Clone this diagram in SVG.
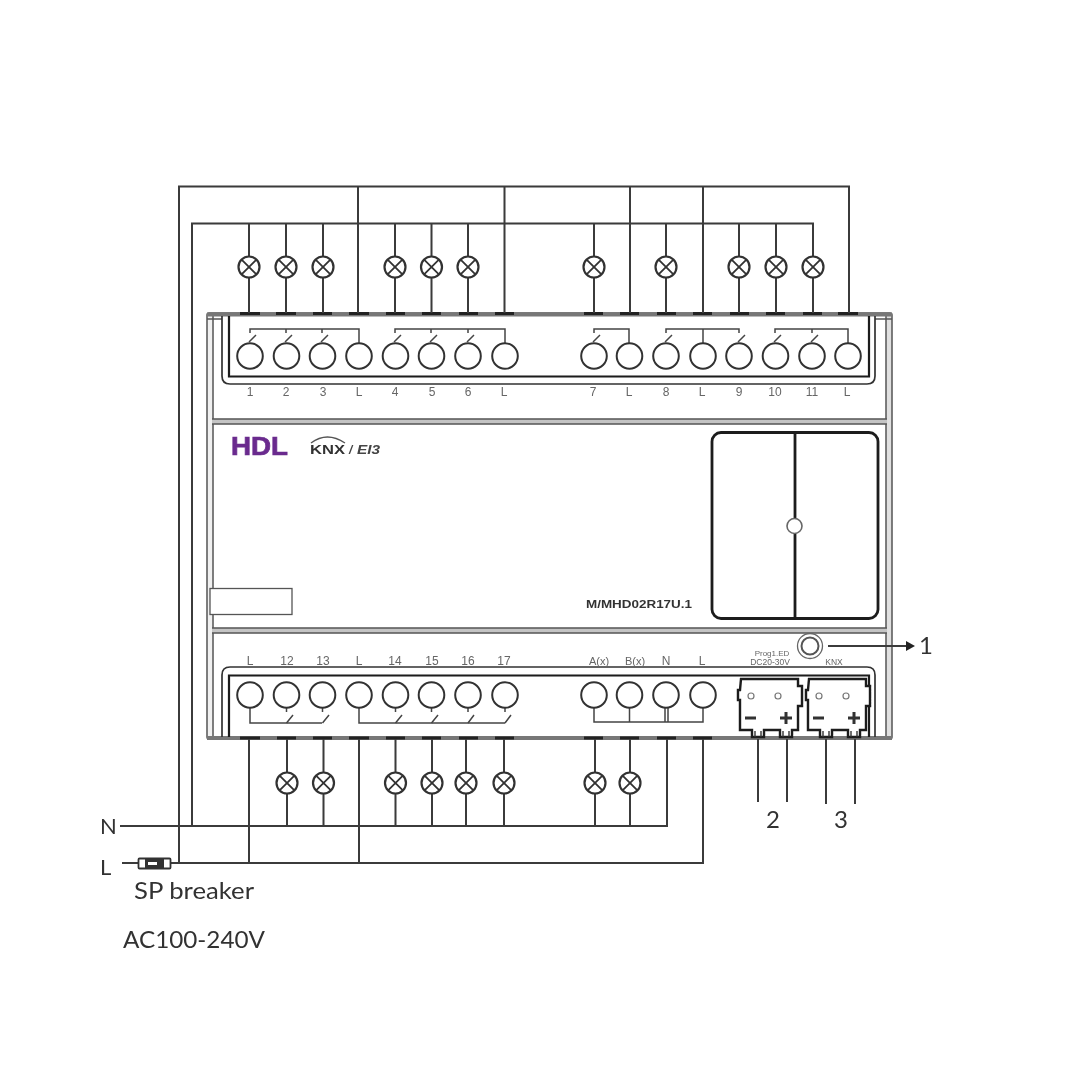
<svg xmlns="http://www.w3.org/2000/svg" xmlns:xlink="http://www.w3.org/1999/xlink" width="1080" height="1080" viewBox="0 0 1080 1080">
<style>
.w{fill:none;stroke:#3a3a3a;stroke-width:2}
.b{fill:none;stroke:#444;stroke-width:1.5}
.body{fill:none;stroke:#555;stroke-width:1.5}
.ch{fill:none;stroke:#1c1c1c;stroke-width:2.2}
.ch2{fill:none;stroke:#333;stroke-width:1.7}
.t{fill:#fff;stroke:#333;stroke-width:2}
.pad{stroke:#222;stroke-width:3}
.lab{font-family:"Liberation Sans",Arial,sans-serif;font-size:12px;fill:#666;text-anchor:middle}
.big{font-family:Lato,"Liberation Sans",sans-serif;fill:#333}
</style>
<defs>
<filter id="soft" filterUnits="userSpaceOnUse" x="0" y="0" width="1080" height="1080"><feGaussianBlur stdDeviation="0.7"/></filter>
<g id="lamp"><circle r="10.5" fill="#fff" stroke="#333" stroke-width="2.2"/><path d="M-7.4-7.4L7.4 7.4M-7.4 7.4L7.4-7.4" stroke="#333" stroke-width="1.8"/></g>
<circle id="term" r="12.8" class="t"/>
<g id="plug">
<path d="M3 0H60V7H64V27H60V51H54V58H42V51H26V58H14V51H2V21H0V11H2Z" fill="#fff" stroke="#1c1c1c" stroke-width="2.4"/>
<path d="M17 52V58M23 52V58M45 52V58M51 52V58" stroke="#333" stroke-width="1.4"/>
<circle cx="13" cy="17" r="3" fill="#fff" stroke="#777" stroke-width="1.2"/>
<circle cx="40" cy="17" r="3" fill="#fff" stroke="#777" stroke-width="1.2"/>
<path d="M7 39H18M42 39H54M48 33V45" stroke="#333" stroke-width="3" fill="none"/>
</g>
</defs>
<g filter="url(#soft)">
<g id="device">
<rect x="207" y="313" width="6" height="426" fill="#f0f0f0"/>
<rect x="886" y="313" width="6" height="426" fill="#e0e0e0"/>
<rect x="207" y="313" width="685" height="426" rx="2" class="body"/>
<path class="body" d="M213 316V739M886 316V739M207 319H222M875 319H892"/>
<rect x="207" y="312.500" width="685" height="4" fill="#777"/>
<rect x="207" y="736" width="685" height="4" fill="#777"/>
<rect x="212" y="419" width="675" height="5" fill="#c4c4c4"/>
<rect x="212" y="628" width="675" height="5" fill="#c4c4c4"/>
<path class="body" d="M212 419H887M212 424H887M212 628H887M212 633H887"/>
<path class="ch2" d="M222 316V376Q222 384 230 384H867Q875 384 875 376V316"/>
<path class="ch" d="M229 316V376.500H869V316"/>
<path class="ch2" d="M222 737V675Q222 667 230 667H867Q875 667 875 675V737"/>
<path class="ch" d="M229 737V675.500H869V737"/>
<rect x="210" y="588.500" width="82" height="26" fill="#fff" stroke="#555" stroke-width="1.3"/>
</g>
<g id="panel">
<rect x="712" y="432.500" width="166" height="186" rx="9" fill="#fff" stroke="#1c1c1c" stroke-width="2.8"/>
<path d="M795 432V618" stroke="#1c1c1c" stroke-width="2.8"/>
<circle cx="794.500" cy="526" r="7.500" fill="#fff" stroke="#666" stroke-width="1.600"/>
</g>
<g id="logos">
<text x="231" y="455" font-family="Liberation Sans,Arial,sans-serif" font-weight="700" font-size="25" fill="#6a2c8e" stroke="#6a2c8e" stroke-width="0.7" textLength="57" lengthAdjust="spacingAndGlyphs">HDL</text>
<text x="310" y="454" font-family="Liberation Sans,Arial,sans-serif" font-weight="700" font-size="12.500" fill="#333" textLength="35" lengthAdjust="spacingAndGlyphs">KNX</text>
<path d="M311 443Q327 431 345 443" fill="none" stroke="#555" stroke-width="1.400"/>
<text x="349" y="454" font-family="Liberation Sans,Arial,sans-serif" font-style="italic" font-weight="700" font-size="12" fill="#444">/</text>
<text x="357" y="454" font-family="Liberation Sans,Arial,sans-serif" font-style="italic" font-weight="700" font-size="12" fill="#444" textLength="23" lengthAdjust="spacingAndGlyphs">EI3</text>
<text x="586" y="608" font-family="Liberation Sans,Arial,sans-serif" font-weight="700" font-size="11.500" fill="#333" textLength="106" lengthAdjust="spacingAndGlyphs">M/MHD02R17U.1</text>
</g>
<g id="terminals-top">
<path class="pad" d="M240 313.500H260M276 313.500H296M313 313.500H332M349 313.500H369M386 313.500H405M422 313.500H441M459 313.500H478M495 313.500H514M584 313.500H603M620 313.500H639M657 313.500H676M693 313.500H712M730 313.500H749M766 313.500H785M803 313.500H822M838 313.500H858"/>
<path class="b" d="M250 333V329H359V343M286 329V333M322 329V333M395 333V329H505V343M431 329V333M468 329V333M594 333V329H629V343M666 333V329H739V333M703 329V343M775 333V329H848V343M812 329V333"/>
<path class="b" d="M249 342L256 335M285 342L292 335M321 342L328 335M394 342L401 335M430 342L437 335M467 342L474 335M593 342L600 335M665 342L672 335M738 342L745 335M774 342L781 335M811 342L818 335"/>
<use xlink:href="#term" href="#term" x="250" y="356"/><use xlink:href="#term" href="#term" x="286.500" y="356"/><use xlink:href="#term" href="#term" x="322.500" y="356"/><use xlink:href="#term" href="#term" x="359" y="356"/><use xlink:href="#term" href="#term" x="395.500" y="356"/><use xlink:href="#term" href="#term" x="431.500" y="356"/><use xlink:href="#term" href="#term" x="468" y="356"/><use xlink:href="#term" href="#term" x="505" y="356"/><use xlink:href="#term" href="#term" x="594" y="356"/><use xlink:href="#term" href="#term" x="629.500" y="356"/><use xlink:href="#term" href="#term" x="666" y="356"/><use xlink:href="#term" href="#term" x="703" y="356"/><use xlink:href="#term" href="#term" x="739" y="356"/><use xlink:href="#term" href="#term" x="775.500" y="356"/><use xlink:href="#term" href="#term" x="812" y="356"/><use xlink:href="#term" href="#term" x="848" y="356"/>
<g class="lab">
<text x="250" y="396">1</text><text x="286" y="396">2</text><text x="323" y="396">3</text><text x="359" y="396">L</text><text x="395" y="396">4</text><text x="432" y="396">5</text><text x="468" y="396">6</text><text x="504" y="396">L</text><text x="593" y="396">7</text><text x="629" y="396">L</text><text x="666" y="396">8</text><text x="702" y="396">L</text><text x="739" y="396">9</text><text x="775" y="396">10</text><text x="812" y="396">11</text><text x="847" y="396">L</text>
</g>
</g>
<g id="terminals-bottom">
<path class="pad" d="M240 738H260M277 738H296M313 738H332M349 738H369M386 738H405M422 738H441M459 738H478M495 738H514M584 738H603M620 738H639M657 738H676M693 738H712"/>
<path class="b" d="M250 708V723H322M359 708V723H505M594 708V722H703V708M629.500 708V722M665 708V722M668 708V722"/>
<path class="b" d="M286.500 723L293 715M322.500 723L329 715M395.500 723L402 715M431.500 723L438 715M468 723L474 715M505 723L511 715"/>
<path class="b" d="M286.500 708V712M322.500 708V712M395.500 708V712M431.500 708V712M468 708V712M505 708V712"/>
<use xlink:href="#term" href="#term" x="250" y="695"/><use xlink:href="#term" href="#term" x="286.500" y="695"/><use xlink:href="#term" href="#term" x="322.500" y="695"/><use xlink:href="#term" href="#term" x="359" y="695"/><use xlink:href="#term" href="#term" x="395.500" y="695"/><use xlink:href="#term" href="#term" x="431.500" y="695"/><use xlink:href="#term" href="#term" x="468" y="695"/><use xlink:href="#term" href="#term" x="505" y="695"/><use xlink:href="#term" href="#term" x="594" y="695"/><use xlink:href="#term" href="#term" x="629.500" y="695"/><use xlink:href="#term" href="#term" x="666" y="695"/><use xlink:href="#term" href="#term" x="703" y="695"/>
<g class="lab">
<text x="250" y="665">L</text><text x="287" y="665">12</text><text x="323" y="665">13</text><text x="359" y="665">L</text><text x="395" y="665">14</text><text x="432" y="665">15</text><text x="468" y="665">16</text><text x="504" y="665">17</text><text x="599" y="665" font-size="11">A(x)</text><text x="635" y="665" font-size="11">B(x)</text><text x="666" y="665">N</text><text x="702" y="665">L</text>
<text x="772" y="656" style="font-size:8px">Prog1.ED</text><text x="770" y="665" style="font-size:8.500px">DC20-30V</text><text x="834" y="665" style="font-size:8.500px">KNX</text>
</g>
</g>
<g id="connector-2"><use xlink:href="#plug" href="#plug" x="738" y="679"/></g>
<g id="connector-3"><use xlink:href="#plug" href="#plug" x="806" y="679"/></g>
<g id="prog-led">
<circle cx="810" cy="646" r="12.500" fill="#fff" stroke="#666" stroke-width="1.300"/>
<circle cx="810" cy="646" r="8.500" fill="#fff" stroke="#555" stroke-width="2"/>
</g>
<g id="connectors">
<path class="w" d="M179 863V186.500H849V313M358 186.500V313M504.500 186.500V313M630 186.500V313M703 186.500V313"/>
<path class="w" d="M192 826V223.500H813V257M249 223.500V257M286 223.500V257M323 223.500V257M395 223.500V257M431.500 223.500V257M468 223.500V257M594 223.500V257M666 223.500V257M739 223.500V257M776 223.500V257"/>
<path class="w" d="M249 277V313M286 277V313M323 277V313M395 277V313M431.500 277V313M468 277V313M594 277V313M666 277V313M739 277V313M776 277V313M813 277V313"/>
<path class="w" d="M120 826H667V739M249 739V863M359 739V863M170 863H703V739M122 863H138"/>
<path class="w" d="M287 739V773M323.500 739V773M395.500 739V773M432 739V773M466 739V773M504 739V773M595 739V773M630 739V773"/>
<path class="w" d="M287 794V826M323.500 794V826M395.500 794V826M432 794V826M466 794V826M504 794V826M595 794V826M630 794V826"/>
<path class="w" d="M758 739V802M787 739V802M826 739V804M855 739V804"/>
<path class="w" d="M828 646H908"/>
<path d="M906 641L915 646L906 651Z" fill="#222"/>
</g>
<g id="lamps">
<use xlink:href="#lamp" href="#lamp" x="249" y="267"/><use xlink:href="#lamp" href="#lamp" x="286" y="267"/><use xlink:href="#lamp" href="#lamp" x="323" y="267"/><use xlink:href="#lamp" href="#lamp" x="395" y="267"/><use xlink:href="#lamp" href="#lamp" x="431.500" y="267"/><use xlink:href="#lamp" href="#lamp" x="468" y="267"/><use xlink:href="#lamp" href="#lamp" x="594" y="267"/><use xlink:href="#lamp" href="#lamp" x="666" y="267"/><use xlink:href="#lamp" href="#lamp" x="739" y="267"/><use xlink:href="#lamp" href="#lamp" x="776" y="267"/><use xlink:href="#lamp" href="#lamp" x="813" y="267"/>
<use xlink:href="#lamp" href="#lamp" x="287" y="783"/><use xlink:href="#lamp" href="#lamp" x="323.500" y="783"/><use xlink:href="#lamp" href="#lamp" x="395.500" y="783"/><use xlink:href="#lamp" href="#lamp" x="432" y="783"/><use xlink:href="#lamp" href="#lamp" x="466" y="783"/><use xlink:href="#lamp" href="#lamp" x="504" y="783"/><use xlink:href="#lamp" href="#lamp" x="595" y="783"/><use xlink:href="#lamp" href="#lamp" x="630" y="783"/>
</g>
<g id="breaker">
<rect x="138.500" y="858.500" width="32" height="10" rx="1" fill="#fff" stroke="#333" stroke-width="1.800"/>
<rect x="145" y="859" width="19" height="9" fill="#333"/>
<rect x="148" y="862" width="9" height="3" fill="#fff"/>
</g>
<g id="texts" class="big">
<text x="100" y="834" font-size="22">N</text>
<text x="100" y="875" font-size="22">L</text>
<text x="134" y="899" font-size="24" textLength="120" lengthAdjust="spacingAndGlyphs">SP breaker</text>
<text x="123" y="948" font-size="24" textLength="142" lengthAdjust="spacingAndGlyphs">AC100-240V</text>
<text x="919" y="654" font-size="24">1</text>
<text x="766" y="828" font-size="24">2</text>
<text x="834" y="828" font-size="24">3</text>
</g>
</g>
</svg>
